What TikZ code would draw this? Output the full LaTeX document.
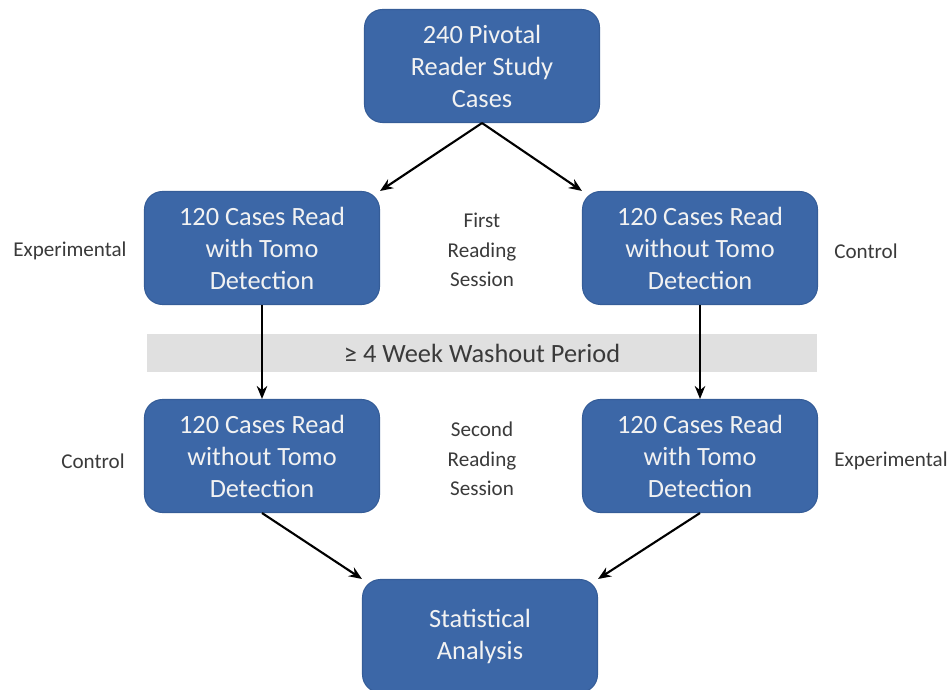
\documentclass[tikz,border=0pt]{standalone}
\usepackage{fontspec}
\setmainfont{Carlito}
\usepackage{tikz}
\usetikzlibrary{arrows.meta}
\definecolor{studyblue}{HTML}{3C67A7}
\definecolor{studyedge}{HTML}{355D98}
\definecolor{washgray}{HTML}{E0E0E0}
\definecolor{labelgray}{HTML}{3A3A3A}

\begin{document}
\begin{tikzpicture}[x=0.2mm, y=-0.2mm,
  box/.style    ={fill=studyblue, draw=studyedge, line width=0.6pt,
                  rounded corners=3.6mm, inner sep=1mm,
                  minimum width=47mm, minimum height=22.6mm, align=center,
                  font=\fontsize{15}{18.2}\selectfont, text=white!95!black},
  band/.style   ={fill=washgray, minimum width=134mm, minimum height=7.6mm,
                  inner sep=0pt, font=\fontsize{15}{18}\selectfont,
                  text=labelgray},
  side/.style   ={font=\fontsize{12}{16.8}\selectfont, text=labelgray,
                  align=center},
  arr/.style    ={-{Stealth[length=2.6mm, width=2.1mm]}, black,
                  line width=1.2pt}
]
  \useasboundingbox (0,0) rectangle (950,690);
  \node[band]  (wash) at (482,353) {≥ 4 Week Washout Period};
  \node[box]   (cases) at (482, 66) {240 Pivotal\\Reader Study\\Cases};
  \node[box]   (l1)  at (262,248) {120 Cases Read\\with Tomo\\Detection};
  \node[box]   (r1)  at (700,248) {120 Cases Read\\without Tomo\\Detection};
  \node[box]   (l2)  at (262,456) {120 Cases Read\\without Tomo\\Detection};
  \node[box]   (r2)  at (700,456) {120 Cases Read\\with Tomo\\Detection};
  \node[box]   (stat) at (480,636) {Statistical\\Analysis};
  \node[side]  (first)  at (482,250) {First\\Reading\\Session};
  \node[side]  (second) at (482,459) {Second\\Reading\\Session};
  \node[side]  (exp1) at ( 70,251) {Experimental};
  \node[side]  (ctl1) at (866,251) {Control};
  \node[side]  (ctl2) at ( 93,461) {Control};
  \node[side]  (exp2) at (891,461) {Experimental};
  \draw[arr] (cases.south) -- (l1.north east);
  \draw[arr] (cases.south) -- (r1.north west);
  \draw[arr] (l1.south) -- (l2.north);
  \draw[arr] (r1.south) -- (r2.north);
  \draw[arr] (l2.south) -- (stat.north west);
  \draw[arr] (r2.south) -- (stat.north east);
\end{tikzpicture}
\end{document}
